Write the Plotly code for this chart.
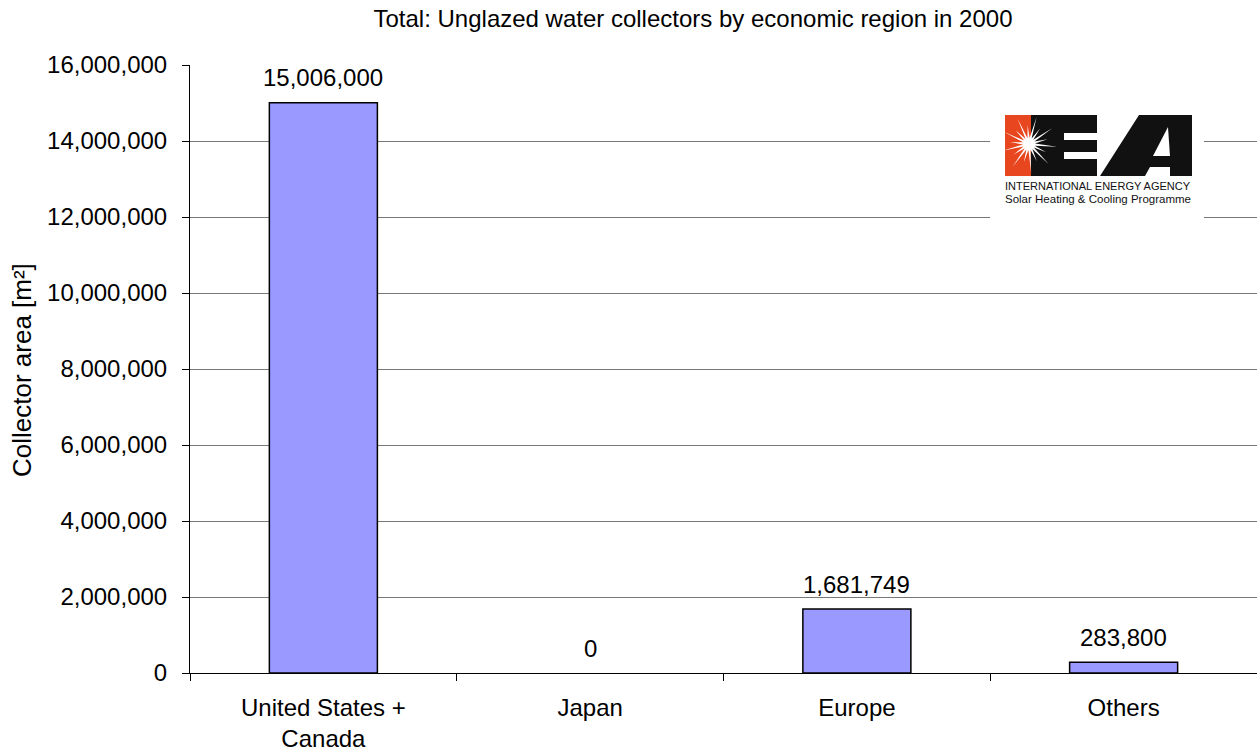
import numpy as np
import plotly.graph_objects as go

categories = ["United States +<br>Canada", "Japan", "Europe", "Others"]
values = [15006000, 0, 1681749, 283800]
y_ticks = [0, 2000000, 4000000, 6000000, 8000000, 10000000, 12000000, 14000000, 16000000]

W, H = 1257, 751
L, R, T, B = 190, 0, 65, 78
PW, PH = W - L - R, H - T - B


def X(px):
    return (px - L) / PW


def Y(py):
    return (H - B - py) / PH


FONT = "Liberation Sans, Arial, sans-serif"
FS = 24

fig = go.Figure(
    go.Bar(
        x=categories,
        y=values,
        marker=dict(color="#9999FF",
                    line=dict(color="#000000", width=[1.5 if v > 0 else 0 for v in values])),
        width=0.405,
        cliponaxis=False,
    )
)

shapes = []
# logo background
shapes.append(dict(type="rect", xref="paper", yref="paper", x0=X(990), x1=X(1204), y0=Y(222), y1=Y(108),
                   fillcolor="white", line=dict(width=0), layer="above"))
# orange block
shapes.append(dict(type="rect", xref="paper", yref="paper", x0=X(1005), x1=X(1031), y0=Y(176), y1=Y(115),
                   fillcolor="#E8461E", line=dict(width=0), layer="above"))
# E block
shapes.append(dict(type="rect", xref="paper", yref="paper", x0=X(1031), x1=X(1097), y0=Y(176), y1=Y(115),
                   fillcolor="#111111", line=dict(width=0), layer="above"))
for gy0, gy1 in [(133, 140), (152, 159)]:
    shapes.append(dict(type="rect", xref="paper", yref="paper", x0=X(1064), x1=X(1098), y0=Y(gy1), y1=Y(gy0),
                       fillcolor="white", line=dict(width=0), layer="above"))


def poly(points, color):
    d = "M " + " L ".join(f"{X(px):.5f},{Y(py):.5f}" for px, py in points) + " Z"
    return dict(type="path", xref="paper", yref="paper", path=d, fillcolor=color,
                line=dict(width=0), layer="above")


# A
shapes.append(poly([(1100, 176), (1139, 115), (1192, 115), (1192, 176), (1170, 176), (1170, 167),
                    (1150, 167), (1145, 176)], "#111111"))
shapes.append(poly([(1153, 156), (1168, 127), (1170, 156)], "white"))
# sunburst
cx, cy = 1029, 144
n = 18
pts = []
for i in range(2 * n):
    ang = np.pi * i / n + 0.1
    r = 28 if i % 2 == 0 else 6
    if i % 4 == 2:
        r = 19
    pts.append((cx + r * np.cos(ang), cy + r * np.sin(ang)))
shapes.append(poly(pts, "white"))

annotations = [
    dict(text="Collector area [m²]", xref="paper", yref="paper", x=X(22), y=Y(370), textangle=-90,
         showarrow=False, font=dict(family=FONT, size=26, color="#000000"), xanchor="center", yanchor="middle"),
    dict(text="INTERNATIONAL ENERGY AGENCY", xref="paper", yref="paper", x=X(1098), y=Y(186),
         showarrow=False, font=dict(family="Liberation Sans Narrow, Arial Narrow, sans-serif", size=11, color="#111111"),
         xanchor="center", yanchor="middle"),
    dict(text="Solar Heating & Cooling Programme", xref="paper", yref="paper", x=X(1098), y=Y(199),
         showarrow=False, font=dict(family="Liberation Sans Narrow, Arial Narrow, sans-serif", size=11.5, color="#111111"),
         xanchor="center", yanchor="middle"),
]
# value labels above bars, positioned in data coordinates
for c, v in zip(categories, values):
    annotations.append(dict(text=f"{v:,}", x=c, y=v, xref="x", yref="y", showarrow=False,
                            yanchor="middle", yshift=25, xanchor="center",
                            font=dict(family=FONT, size=FS, color="#000000")))

fig.update_layout(
    width=W,
    height=H,
    margin=dict(l=L, r=R, t=T, b=B, pad=0),
    paper_bgcolor="white",
    plot_bgcolor="white",
    showlegend=False,
    title=dict(text="Total: Unglazed water collectors by economic region in 2000", x=693 / W, xref="container",
               xanchor="center", y=1 - 19 / H, yanchor="middle", yref="container",
               font=dict(family=FONT, size=FS, color="#000000")),
    shapes=shapes,
    annotations=annotations,
)
fig.update_xaxes(
    type="category",
    showline=True, linecolor="#000000", linewidth=1,
    ticks="outside", tickson="boundaries", ticklen=7, tickcolor="#000000",
    tickfont=dict(family=FONT, size=FS, color="#000000"),
    ticklabelstandoff=13,
    showgrid=False,
)
fig.update_yaxes(
    range=[0, 16000000],
    tickvals=y_ticks,
    tickformat=",",
    showline=True, linecolor="#000000", linewidth=1,
    ticks="outside", ticklen=7, tickcolor="#000000",
    tickfont=dict(family=FONT, size=FS, color="#000000"),
    ticklabelstandoff=10,
    showgrid=True, gridcolor="#777777", gridwidth=1,
    zeroline=False,
)

fig.write_html("out.html", config={"displayModeBar": False},
               post_script="document.body.style.margin='0px';document.body.style.overflow='hidden';")
